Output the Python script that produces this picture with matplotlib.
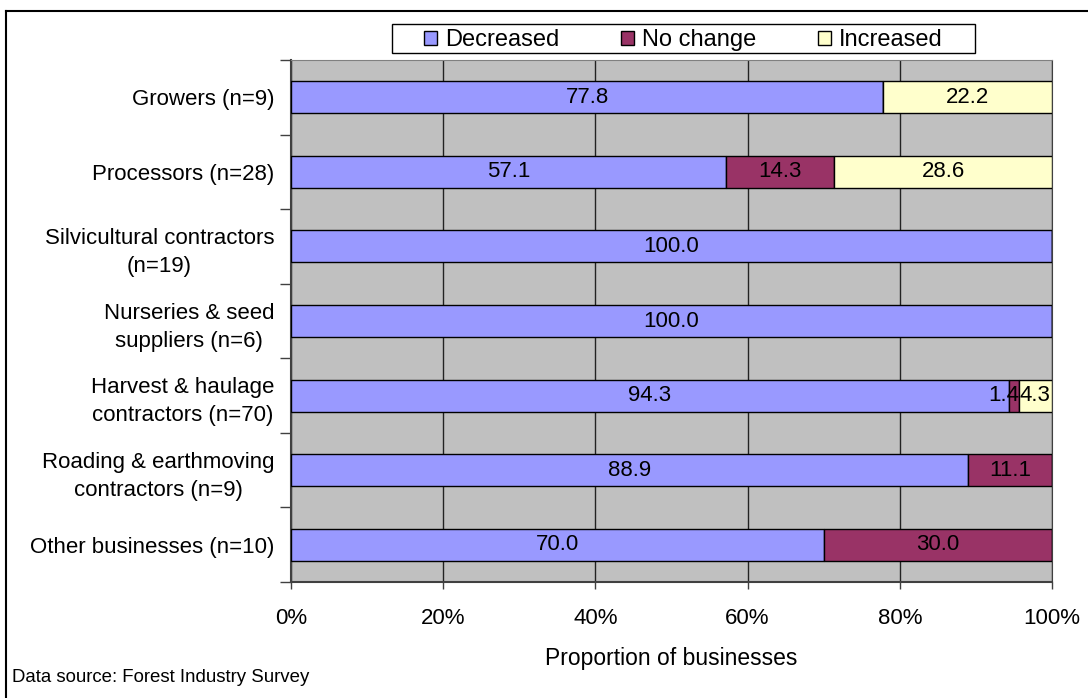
import numpy as np
import matplotlib.pyplot as plt
from matplotlib.lines import Line2D
from matplotlib.patches import Rectangle

plt.rcParams['font.family'] = ['Liberation Sans', 'DejaVu Sans']

categories = ["Growers (n=9)", "Processors (n=28)", "Silvicultural contractors\n(n=19)",
              "Nurseries & seed\nsuppliers (n=6)", "Harvest & haulage\ncontractors (n=70)",
              "Roading & earthmoving\ncontractors (n=9)", "Other businesses (n=10)"]
decreased = [77.8, 57.1, 100.0, 100.0, 94.3, 88.9, 70.0]
no_change = [0.0, 14.3, 0.0, 0.0, 1.4, 11.1, 30.0]
increased = [22.2, 28.6, 0.0, 0.0, 4.3, 0.0, 0.0]

series = [("Decreased", decreased, "#9999FF"),
          ("No change", no_change, "#993366"),
          ("Increased", increased, "#FFFFCC")]

W, H = 1088, 698
fig = plt.figure(figsize=(W / 100, H / 100), dpi=100)
ax = fig.add_axes([291 / W, 1 - 582 / H, (1052 - 291) / W, (582 - 60) / H])
ax.set_facecolor("#C0C0C0")

y = np.arange(len(categories))
left = np.zeros(len(categories))
for k, (name, vals, col) in enumerate(series):
    vals = np.array(vals)
    ax.barh(y, vals, left=left, height=0.43, color=col, edgecolor="black",
            linewidth=1.0, label=name, zorder=3)
    for yi, l, v in zip(y, left, vals):
        if v <= 0:
            continue
        # narrow segments: push the label out to the segment edge
        if v < 5 and k == 1:
            x, ha = l + v, "right"
        elif v < 5 and k == 2:
            x, ha = l, "left"
        else:
            x, ha = l + v / 2, "center"
        ax.text(x, yi, f"{v:.1f}", ha=ha, va="center", fontsize=16, zorder=4)
    left += vals

ax.set_xlim(0, 100)
ax.set_ylim(len(categories) - 0.5, -0.5)
ax.set_xticks(np.arange(0, 101, 20))
ax.set_xticklabels([f"{v}%" for v in range(0, 101, 20)], fontsize=16)
ax.xaxis.grid(True, color="#222222", linewidth=1.0, zorder=1)
ax.set_axisbelow(True)

# category boundaries carry the ticks, centres carry the labels
ax.set_yticks(np.arange(-0.5, len(categories), 1.0))
ax.set_yticklabels([])
ax.set_yticks(y, minor=True)
ax.set_yticklabels(categories, minor=True, fontsize=16, ha="right")
for lab in ax.get_yticklabels(minor=True):
    lab.set_multialignment("center")
    lab.set_linespacing(1.45)
ax.tick_params(axis="y", which="minor", length=0, pad=12)
ax.tick_params(axis="y", which="major", length=8, width=1.0, color="#404040")
ax.tick_params(axis="x", length=5, width=1.0, color="#404040", pad=14)

for s in ["left", "bottom"]:
    ax.spines[s].set_color("#404040")
    ax.spines[s].set_linewidth(1.5)
ax.spines["top"].set_color("#808080")
ax.spines["right"].set_color("#404040")

ax.set_xlabel("Proportion of businesses", fontsize=16.5, labelpad=12.4)

handles, labels = ax.get_legend_handles_labels()
leg = fig.legend(handles, labels, loc="center", bbox_to_anchor=(683.5 / W, 1 - 40 / H),
                 ncol=3, fontsize=17, frameon=False,
                 handlelength=0.55, handleheight=0.55, handletextpad=0.35,
                 columnspacing=2.6, borderpad=0.0)
fig.add_artist(Rectangle((392 / W, 1 - 53 / H), (975 - 392) / W, 29 / H,
                         transform=fig.transFigure, fill=False,
                         edgecolor="black", linewidth=1.0))

fig.text(12 / W, 1 - 678 / H, "Data source: Forest Industry Survey",
         fontsize=13.4, va="center", ha="left")

# outer frame: top and left edges
fig.add_artist(Line2D([6 / W, 1], [1 - 11 / H, 1 - 11 / H],
                      transform=fig.transFigure, color="black", linewidth=1.5))
fig.add_artist(Line2D([6 / W, 6 / W], [0, 1 - 11 / H],
                      transform=fig.transFigure, color="black", linewidth=1.5))

fig.savefig("out.png", dpi=100)
